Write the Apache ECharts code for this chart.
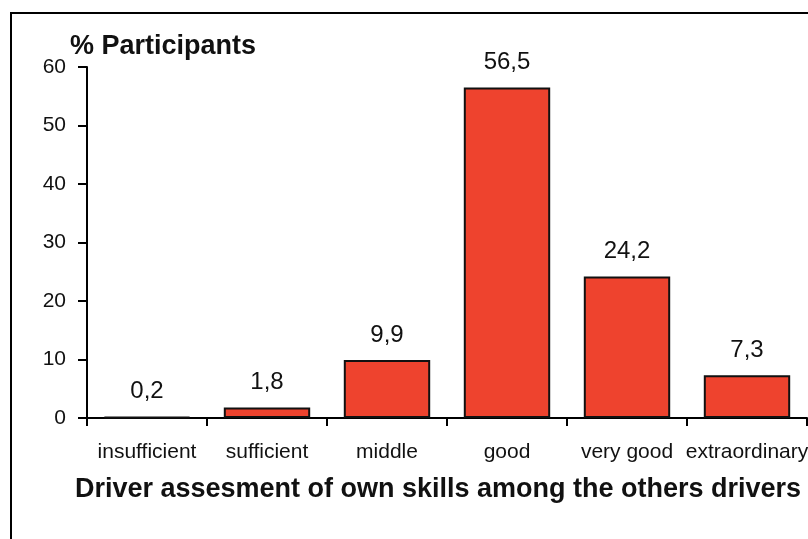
<!DOCTYPE html>
<html>
<head>
<meta charset="utf-8">
<script src="https://cdn.jsdelivr.net/npm/echarts@6/dist/echarts.min.js"></script>
<style>
  html, body { margin: 0; padding: 0; background: #fff; }
  #chart { width: 808px; height: 539px; }
</style>
</head>
<body>
<div id="chart"></div>
<script>
const categories = ["insufficient", "sufficient", "middle", "good", "very good", "extraordinary"];
const participants = [0.2, 1.8, 9.9, 56.5, 24.2, 7.3];

const chart = echarts.init(document.getElementById("chart"));
const font = "Liberation Sans, Arial, sans-serif";

chart.setOption({
  backgroundColor: "#fff",
  animation: false,
  grid: { left: 87, top: 67, right: 1, bottom: 121, outerBoundsMode: "none", containLabel: false },
  graphic: [
    { type: "line", shape: { x1: 11, y1: 13, x2: 808, y2: 13 }, style: { stroke: "#000", lineWidth: 2 } },
    { type: "line", shape: { x1: 11, y1: 12, x2: 11, y2: 539 }, style: { stroke: "#000", lineWidth: 2 } },
    {
      type: "text", x: 70, y: 47,
      style: { text: "% Participants", font: "bold 27px " + font, fill: "#111", textVerticalAlign: "middle" }
    },
    {
      type: "text", x: 438, y: 490,
      style: { text: "Driver assesment of own skills among the others drivers", font: "bold 27px " + font, fill: "#111", textAlign: "center", textVerticalAlign: "middle" }
    }
  ],
  xAxis: {
    type: "category",
    data: categories,
    axisLine: { lineStyle: { color: "#000", width: 2 } },
    axisTick: { show: true, length: 8, lineStyle: { color: "#000", width: 2 } },
    axisLabel: { color: "#111", fontSize: 21, fontFamily: font, margin: 24, interval: 0 }
  },
  yAxis: {
    type: "value",
    min: 0,
    max: 60,
    interval: 10,
    axisLine: { show: true, lineStyle: { color: "#000", width: 2 } },
    axisTick: { show: true, length: 9, lineStyle: { color: "#000", width: 2 } },
    axisLabel: { color: "#111", fontSize: 21, fontFamily: font, margin: 21 },
    splitLine: { show: false }
  },
  series: [{
    type: "bar",
    data: participants,
    barWidth: "72%",
    itemStyle: { color: "#EE432E", borderColor: "#111", borderWidth: 2 },
    label: {
      show: true,
      position: "top",
      distance: 13,
      color: "#111",
      fontSize: 24,
      fontFamily: font,
      formatter: (p) => String(p.value).replace(".", ",")
    }
  }]
});
</script>
</body>
</html>
